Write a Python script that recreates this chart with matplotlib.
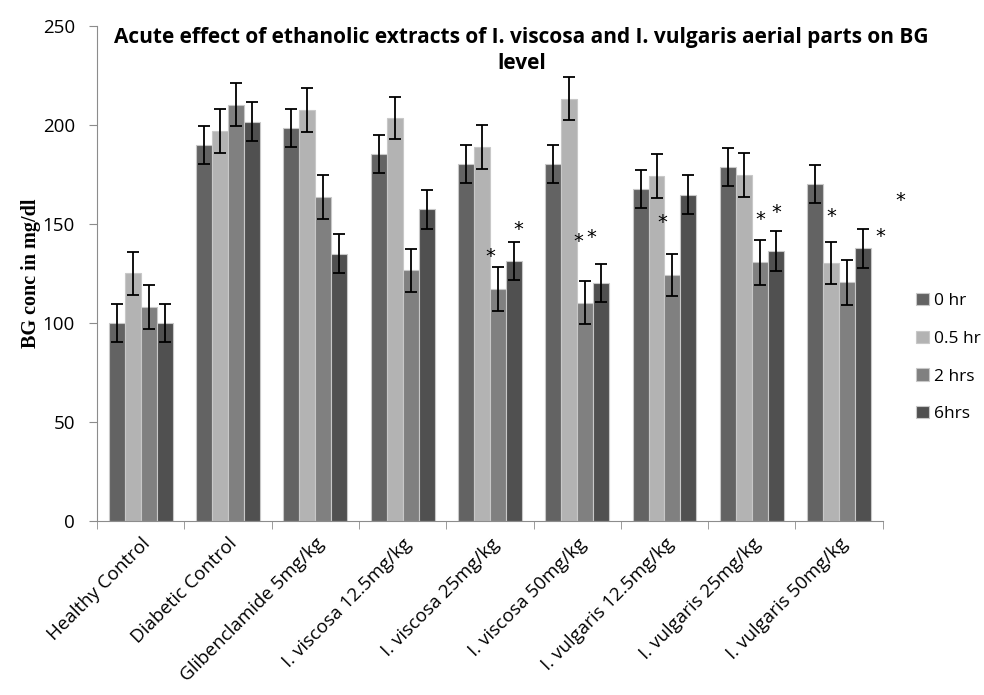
import numpy as np
import matplotlib
matplotlib.use('Agg')
import matplotlib.pyplot as plt

groups = ['Healthy Control', 'Diabetic Control', 'Glibenclamide 5mg/kg',
          'I. viscosa 12.5mg/kg', 'I. viscosa 25mg/kg', 'I. viscosa 50mg/kg',
          'I. vulgaris 12.5mg/kg', 'I. vulgaris 25mg/kg', 'I. vulgaris 50mg/kg']
series = ['0 hr', '0.5 hr', '2 hrs', '6hrs']

hr0 = [100, 189.9, 198.6, 185.2, 180.3, 180.3, 167.8, 178.6, 170.2]
hr05 = [125.1, 197.0, 207.7, 203.4, 188.9, 213.3, 174.2, 174.6, 130.3]
hr2 = [108.2, 210.3, 163.5, 126.6, 117.3, 110.3, 124.1, 130.6, 120.5]
hr6 = [100, 201.7, 135.0, 157.4, 131.3, 120.2, 164.8, 136.4, 137.7]

err0 = [9.7, 9.6, 9.6, 9.7, 9.7, 9.7, 9.6, 9.6, 9.8]
err05 = [11, 11, 11, 10.6, 11, 11, 11.2, 11, 10.7]
err2 = [11, 11, 11, 11, 11, 11, 10.7, 11.2, 11.2]
err6 = [9.7, 9.9, 9.8, 9.9, 9.7, 9.8, 9.8, 9.9, 9.9]

# significance marks (x in category units, y in mg/dl)
star_x = [4.01, 4.32, 5.01, 5.16, 5.98, 7.10, 7.28, 7.91, 8.47, 8.70]
star_y = [133.8, 147, 141, 143, 150.5, 152.5, 155.6, 154, 143.6, 162]

colors = ['#636363', '#b3b3b3', '#808080', '#505050']

fig = plt.figure(figsize=(9.84, 6.95), dpi=100)
ax = fig.add_axes([0.0986, 0.2504, 0.7985, 0.7122])

x = np.arange(len(groups))
w = 0.183
vals = [hr0, hr05, hr2, hr6]
errs = [err0, err05, err2, err6]
for i in range(4):
    pos = x + (i - 1.5) * w
    ax.bar(pos, vals[i], w, color=colors[i], edgecolor='#c8c8c8', linewidth=0.8,
           label=series[i], zorder=2)
    ax.errorbar(pos, vals[i], yerr=errs[i], fmt='none', ecolor='black',
                elinewidth=1.3, capsize=4, capthick=1.3, zorder=3)

for sx, sy in zip(star_x, star_y):
    ax.text(sx, sy, '*', ha='center', va='center', fontsize=14,
            family='DejaVu Sans', clip_on=False)

ax.set_xlim(-0.5, len(groups) - 0.5)
ax.set_ylim(0, 250)
ax.set_yticks(np.arange(0, 251, 50))
ax.set_xticks(x)
ax.set_xticklabels(groups, rotation=45, ha='right', rotation_mode='anchor',
                   family='Open Sans', fontsize=13.5)
ax.set_xticks(np.arange(-0.5, len(groups)), minor=True)
ax.tick_params(axis='x', which='major', length=0, pad=10)
ax.tick_params(axis='x', which='minor', length=6, color='#8c8c8c', direction='out')
ax.tick_params(axis='y', length=6, color='#8c8c8c', direction='out', labelsize=13.5,
               pad=10)
for lab in ax.get_yticklabels():
    lab.set_family('Open Sans')

for s in ['top', 'right']:
    ax.spines[s].set_visible(False)
for s in ['left', 'bottom']:
    ax.spines[s].set_color('#8c8c8c')

ax.set_ylabel('BG conc in mg/dl', family='Liberation Serif', fontweight='bold',
              fontsize=14.5, labelpad=1)
fig.text(0.53, 0.961, 'Acute effect of ethanolic extracts of I. viscosa and I. vulgaris aerial parts on BG\nlevel',
         ha='center', va='top', fontsize=15, fontweight='bold', family='Open Sans',
         linespacing=1.3)

leg = ax.legend(loc='center left', bbox_to_anchor=(1.023, 0.33), frameon=False,
                prop={'family': 'Open Sans', 'size': 12.5}, handlelength=0.7,
                handleheight=0.7, handletextpad=0.3, labelspacing=1.25)

fig.savefig('out.png', dpi=100)
